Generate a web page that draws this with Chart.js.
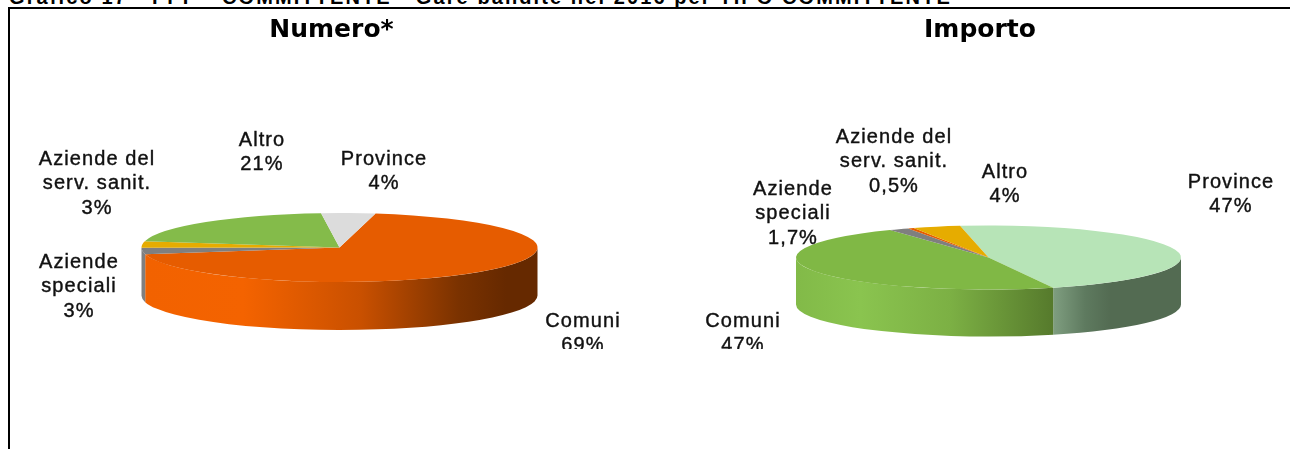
<!DOCTYPE html>
<html>
<head>
<meta charset="utf-8">
<script src="https://cdn.jsdelivr.net/npm/chart.js@4"></script>
<style>
  html, body { margin: 0; padding: 0; background: #fff; overflow: hidden; }
  #page { position: relative; width: 1290px; height: 449px; overflow: hidden; }
  #heading { position: absolute; left: 9px; top: -14px; font: bold 20px "Liberation Sans", Arial, sans-serif; letter-spacing: 2.1px; white-space: nowrap; color: #000; }
  #frame { position: absolute; left: 8px; top: 7px; width: 1300px; height: 460px; border: 2px solid #000; box-sizing: border-box; }
  canvas { position: absolute; top: 0; }
</style>
</head>
<body>
<div id="page">
  <div id="heading">Grafico 17 - PPP - COMMITTENTE - Gare bandite nel 2016 per TIPO COMMITTENTE</div>
  <div id="frame"></div>
  <canvas id="numero" width="663" height="449" style="left:0"></canvas>
  <canvas id="importo" width="620" height="449" style="left:670px"></canvas>
</div>
<script>
const font = '"Liberation Sans", Arial, sans-serif';

// categories, clockwise from the first slice
const numeroLabels = ["Comuni", "Aziende speciali", "Aziende del serv. sanit.", "Altro", "Province"];
const numeroValues = [69, 3, 3, 20.6, 4.4];
const numeroText = ["69%", "3%", "3%", "21%", "4%"];
const importoLabels = ["Province", "Comuni", "Aziende speciali", "Aziende del serv. sanit.", "Altro"];
const importoValues = [47, 47, 1.7, 0.5, 4];
const importoText = ["47%", "47%", "1,7%", "0,5%", "4%"];

const numeroColors = ["#e65c00", "#7f7f7f", "#e6ac00", "#84bb4a", "#dcdcdc"];
const importoColors = ["#b7e4b7", "#80b845", "#7f7f7f", "#e65c00", "#e6ac00"];

// horizontal shading of the pie side, [offset, colour] per slice
const numeroWalls = [
  [[0, "#f26200"], [0.25, "#f46300"], [0.55, "#c95000"], [0.8, "#7a3200"], [0.92, "#662900"], [1, "#662900"]],
  [[0, "#7f7f7f"], [1, "#7f7f7f"]],
  [[0, "#e6ac00"], [1, "#e6ac00"]],
  [[0, "#84bb4a"], [1, "#84bb4a"]],
  [[0, "#dcdcdc"], [1, "#dcdcdc"]]
];
const importoWalls = [
  [[0, "#7f9e80"], [0.25, "#5e7a5f"], [0.45, "#536b52"], [1, "#536b52"]],
  [[0, "#82ba48"], [0.25, "#8ac44f"], [0.6, "#7cb044"], [1, "#567a2c"]],
  [[0, "#7f7f7f"], [1, "#7f7f7f"]],
  [[0, "#e65c00"], [1, "#e65c00"]],
  [[0, "#e6ac00"], [1, "#e6ac00"]]
];

// flattens the round pie from the library into a disc with a side wall
const disc3d = {
  id: "disc3d",
  beforeDatasetsDraw(chart, args, opts) {
    const ctx = chart.ctx, arcs = chart.getDatasetMeta(0).data;
    const k = opts.ry / opts.rx;
    ctx.save();
    ctx.translate(opts.cx, opts.cy);
    // side wall, only where a slice passes the front half of the rim
    arcs.forEach((arc, i) => {
      const p = arc.getProps(["startAngle", "endAngle"], true);
      for (const turn of [0, 2 * Math.PI]) {
        const a = Math.max(p.startAngle, turn), b = Math.min(p.endAngle, turn + Math.PI);
        if (b <= a) continue;
        const x1 = opts.rx * Math.cos(a), x2 = opts.rx * Math.cos(b);
        const g = ctx.createLinearGradient(Math.min(x1, x2), 0, Math.max(x1, x2), 0);
        opts.walls[i].forEach(s => g.addColorStop(s[0], s[1]));
        ctx.beginPath();
        ctx.ellipse(0, 0, opts.rx, opts.ry, 0, a, b);
        ctx.ellipse(0, opts.depth, opts.rx, opts.ry, 0, b, a, true);
        ctx.closePath();
        ctx.fillStyle = g;
        ctx.fill();
      }
    });
    ctx.scale(1, k);
    const c = arcs[0].getProps(["x", "y"], true);
    ctx.translate(-c.x, -c.y);
  },
  afterDatasetsDraw(chart, args, opts) {
    chart.ctx.restore();
  }
};

// data labels, cut at the bottom like in the source picture
const sliceLabels = {
  id: "sliceLabels",
  afterDraw(chart, args, opts) {
    const ctx = chart.ctx;
    ctx.save();
    ctx.beginPath();
    ctx.rect(0, 0, chart.width, opts.clipY);
    ctx.clip();
    ctx.font = "20px " + font;
    ctx.fillStyle = "#111";
    ctx.strokeStyle = "#111";
    ctx.lineWidth = 0.4;
    ctx.textAlign = "center";
    ctx.textBaseline = "middle";
    if ("letterSpacing" in ctx) ctx.letterSpacing = "1.1px";
    opts.lines.forEach((lines, i) => {
      lines.concat(opts.text[i]).forEach((t, j) => {
        ctx.fillText(t, opts.at[i][0], opts.at[i][1] + j * 24.5);
        ctx.strokeText(t, opts.at[i][0], opts.at[i][1] + j * 24.5);
      });
    });
    ctx.restore();
  }
};

function pie(id, title, labels, values, colors, rotation, geo, lines, text, at) {
  return new Chart(document.getElementById(id), {
    type: "pie",
    data: { labels: labels, datasets: [{ data: values, backgroundColor: colors, borderWidth: 0, clip: false }] },
    options: {
      responsive: false,
      animation: false,
      events: [],
      rotation: rotation,
      radius: geo.rx,
      plugins: {
        legend: { display: false },
        tooltip: { enabled: false },
        title: { display: true, text: title, color: "#000", padding: { top: 15, bottom: 0 },
          font: { family: '"DejaVu Sans", sans-serif', size: 25, weight: "bold" } },
        disc3d: Object.assign({ walls: geo.walls }, geo),
        sliceLabels: { clipY: 349, lines: lines, text: text, at: at }
      }
    },
    plugins: [disc3d, sliceLabels]
  });
}

pie("numero", "Numero*", numeroLabels, numeroValues, numeroColors, 10.5,
  { cx: 339.5, cy: 247.5, rx: 198, ry: 34.5, depth: 48, walls: numeroWalls },
  [["Comuni"], ["Aziende", "speciali"], ["Aziende del", "serv. sanit."], ["Altro"], ["Province"]],
  numeroText,
  [[583, 321], [79, 262], [97, 159], [262, 140], [384, 159]]);

pie("importo", "Importo", importoLabels, importoValues, importoColors, -8.5,
  { cx: 318.5, cy: 257.5, rx: 192.5, ry: 32, depth: 47, walls: importoWalls },
  [["Province"], ["Comuni"], ["Aziende", "speciali"], ["Aziende del", "serv. sanit."], ["Altro"]],
  importoText,
  [[561, 182], [73, 321], [123, 189], [224, 137], [335, 172]]);
</script>
</body>
</html>
